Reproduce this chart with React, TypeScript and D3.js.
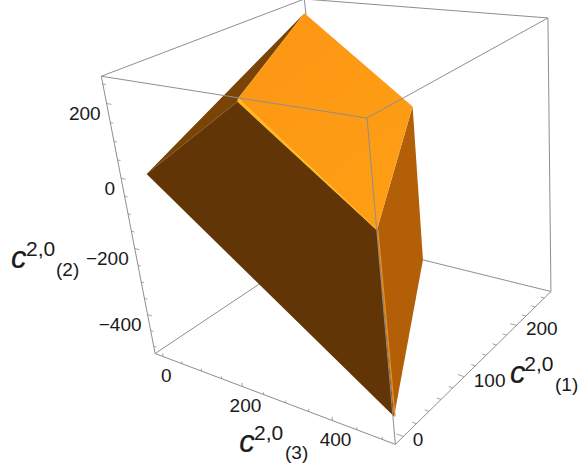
import React from 'react';
import * as d3 from 'd3';

type Vec = [number, number, number];

// plot range of the box, [c3, c1, c2]
const c3Range = [-22, 525];
const c1Range = [-12, 275];
const c2Range = [-524, 270];

// vertices of the region as (c3, c1, c2)
const leftTip: Vec = [20, 0, 9];
const frontTop: Vec = [263, 0, 246];
const topRidge: Vec = [265, 0, 254];
const backTop: Vec = [-8, 264, 236];
const rightTop: Vec = [514, 55, 231];
const frontMid: Vec = [508, 0, 3];
const rightLow: Vec = [514, 55, -138];
const bottomTip: Vec = [510, 0, -476];

const c2Ticks = [200, 0, -200, -400];
const c3Ticks = [0, 200, 400];
const c1Ticks = [0, 100, 200];

// camera fitted to the box corners
const cam = [
  [175.143, 241.586, -65.333, 155.139],
  [17.645, -68.624, -285.988, 353.561],
  [-0.16461, 0.202591, -0.113516, 1],
];

const u = d3.scaleLinear().domain(c3Range).range([0, 1]);
const v = d3.scaleLinear().domain(c1Range).range([0, 1]);
const w = d3.scaleLinear().domain(c2Range).range([0, 1]);

const project = (a: number, b: number, c: number): [number, number] => {
  const h = cam[2][0] * a + cam[2][1] * b + cam[2][2] * c + cam[2][3];
  return [
    (cam[0][0] * a + cam[0][1] * b + cam[0][2] * c + cam[0][3]) / h,
    (cam[1][0] * a + cam[1][1] * b + cam[1][2] * c + cam[1][3]) / h,
  ];
};
const toScreen = (p: Vec) => project(u(p[0]), v(p[1]), w(p[2]));

const line = d3.line();
const poly = (pts: Vec[]) => line(pts.map(toScreen)) + 'Z';
const edge = (a: Vec, b: Vec) => line([project(...a), project(...b)]) || '';

const boxBack = [
  edge([0, 1, 1], [0, 0, 1]),
  edge([0, 1, 1], [1, 1, 1]),
  edge([0, 1, 1], [0, 1, 0]),
  edge([0, 0, 0], [0, 1, 0]),
  edge([0, 1, 0], [1, 1, 0]),
  edge([0, 0, 0], [0, 0, 1]),
  edge([0, 0, 0], [1, 0, 0]),
  edge([1, 0, 0], [1, 1, 0]),
  edge([1, 1, 0], [1, 1, 1]),
];
const boxFront = [
  edge([0, 0, 1], [1, 0, 1]),
  edge([1, 0, 1], [1, 1, 1]),
  edge([1, 0, 1], [1, 0, 0]),
];

const BOX = '#8e8e8e';
const LABEL = '#1a1a1a';
const FONT = '"Liberation Sans", Arial, sans-serif';

const minorTicks = (range: number[], step: number) =>
  d3.range(Math.ceil(range[0] / step) * step, range[1], step);

const AxisLabel = ({ x, y, sub, subY, supY, supX, subX }: any) => (
  <g fontFamily={FONT} fill={LABEL}>
    <text x={x} y={y} fontSize={31} fontStyle="italic" stroke={LABEL} strokeWidth={0.2}>c</text>
    <text x={supX} y={supY} fontSize={21}>2,0</text>
    <text x={subX} y={subY} fontSize={19}>{sub}</text>
  </g>
);

export default function App() {
  const ticks: string[] = [];
  minorTicks(c2Range, 50).forEach(t => {
    const len = t % 200 === 0 ? 0.022 : 0.014;
    ticks.push(edge([0, 0, w(t)], [len, 0, w(t)]));
  });
  minorTicks(c3Range, 50).forEach(t => {
    const len = t % 200 === 0 ? 0.014 : 0.009;
    ticks.push(edge([u(t), 0, 0], [u(t), 0, len]));
  });
  minorTicks(c1Range, 20).forEach(t => {
    const len = t % 100 === 0 ? 0.024 : 0.015;
    ticks.push(edge([1, v(t), 0], [1 - len, v(t), 0]));
  });

  return (
    <svg
      width={579}
      height={468}
      style={{ position: 'absolute', left: 0, top: 0, background: '#fff' }}
    >
      <defs>
        <linearGradient id="topFace" x1="0" y1="0" x2="0.6" y2="1">
          <stop offset="0" stopColor="#fc9513" />
          <stop offset="1" stopColor="#ff9e15" />
        </linearGradient>
      </defs>

      {boxBack.map((d, i) => <path key={i} d={d} fill="none" stroke={BOX} strokeWidth={1} />)}
      {ticks.map((d, i) => <path key={i} d={d} fill="none" stroke={BOX} strokeWidth={0.8} />)}

      <path d={poly([leftTip, backTop, topRidge, frontTop])} fill="#7b4407" />
      <path d={poly([leftTip, frontTop, frontMid, bottomTip])} fill="#623506" />
      <path d={poly([rightTop, frontMid, bottomTip, rightLow])} fill="#b35f08" />
      <path d={poly([topRidge, backTop, rightTop, frontMid])} fill="url(#topFace)" />
      <path d={poly([frontTop, topRidge, frontMid])} fill="#ffb817" stroke="#ffb817" strokeWidth={0.5} />
      <path d={line([frontMid, bottomTip].map(toScreen)) || ''} stroke="#f0901a" strokeWidth={1.2} fill="none" transform="translate(1,0)" />

      {boxFront.map((d, i) => <path key={i} d={d} fill="none" stroke={BOX} strokeWidth={1} />)}

      <g fontFamily={FONT} fontSize={19} fill={LABEL}>
        {c2Ticks.map(t => {
          const [x, y] = project(0, 0, w(t));
          return <text key={t} x={x - 6} y={y + 17} textAnchor="end">{t < 0 ? `\u2212${-t}` : t}</text>;
        })}
        {c3Ticks.map(t => {
          const [x, y] = project(u(t), 0, 0);
          return <text key={t} x={x + 3} y={y + 25} textAnchor="middle">{t}</text>;
        })}
        {c1Ticks.map(t => {
          const [x, y] = project(1, v(t), 0);
          return <text key={t} x={x + 9.5} y={y + 10} textAnchor="start">{t}</text>;
        })}
      </g>

      <AxisLabel x={11} y={268} supX={26} supY={255.7} subX={56} subY={275.7} sub="(2)" />
      <AxisLabel x={239.3} y={452} supX={254} supY={439.5} subX={285} subY={459} sub="(3)" />
      <AxisLabel x={510} y={383.3} supX={524.3} supY={371} subX={555} subY={390.7} sub="(1)" />
    </svg>
  );
}
